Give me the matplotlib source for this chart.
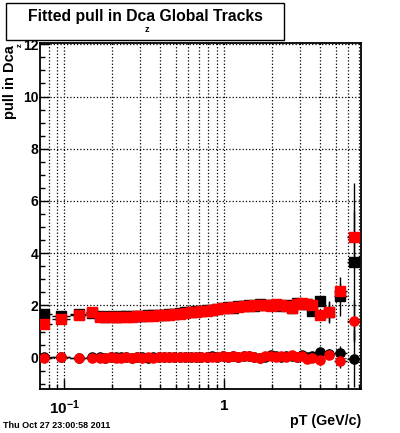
import numpy as np
import matplotlib
matplotlib.use("Agg")
import matplotlib.pyplot as plt
from matplotlib.ticker import FixedLocator, FixedFormatter, LogLocator, NullFormatter, MultipleLocator
from matplotlib.patches import Rectangle

plt.rcParams['font.family'] = ['Liberation Sans', 'DejaVu Sans']
plt.rcParams['font.weight'] = 'bold'
plt.rcParams['mathtext.fontset'] = 'custom'
plt.rcParams['mathtext.rm'] = 'Liberation Sans:bold'
plt.rcParams['mathtext.bf'] = 'Liberation Sans:bold'

# pT bin centres (GeV/c)
pt = [0.0742, 0.0957, 0.124, 0.150,
      0.167, 0.18, 0.195, 0.21, 0.227, 0.245, 0.265, 0.286, 0.309, 0.334,
      0.36, 0.39, 0.42, 0.455, 0.49, 0.53, 0.57, 0.62, 0.67, 0.72,
      0.78, 0.84, 0.91, 0.98, 1.06, 1.14, 1.23, 1.33, 1.44, 1.55,
      1.68, 1.81, 1.96, 2.11, 2.28, 2.46, 2.66, 2.87, 3.1, 3.33,
      3.56, 3.97, 4.52, 5.30, 6.48]

# fitted sigma of the pull (squares)
sigma_red = [1.29, 1.49, 1.65, 1.74,
             1.54, 1.55, 1.55, 1.56, 1.56, 1.57, 1.57, 1.58, 1.59, 1.60,
             1.61, 1.62, 1.63, 1.65, 1.67, 1.69, 1.71, 1.73, 1.76, 1.78,
             1.80, 1.83, 1.86, 1.89, 1.91, 1.93, 1.95, 1.97, 1.99, 2.00,
             2.03, 2.01, 1.98, 2.05, 2.00, 1.96, 1.92, 2.06, 2.08, 2.06,
             2.02, 1.62, 1.75, 2.57, 4.62]
sigma_black = [1.69, 1.60, 1.68, 1.72,
               1.58, 1.57, 1.58, 1.57, 1.58, 1.59, 1.58, 1.60, 1.60, 1.62,
               1.62, 1.64, 1.64, 1.67, 1.68, 1.70, 1.73, 1.74, 1.77, 1.80,
               1.81, 1.84, 1.88, 1.90, 1.94, 1.92, 1.97, 1.96, 2.01, 1.99,
               2.05, 2.00, 2.02, 2.03, 1.98, 2.00, 1.90, 2.08, 2.05, 2.04,
               1.80, 2.18, 1.75, 2.35, 3.67]
sigma_red_err = [0.03] * 44 + [0.08, 0.12, 0.42, 0.30, 1.0]
sigma_black_err = [0.03] * 44 + [0.10, 0.15, 0.40, 0.74, 3.0]

# fitted mean of the pull (circles)
mean_red = [0.00, 0.02, 0.00, 0.00,
            0.00, 0.00, 0.01, 0.00, 0.00, 0.01, 0.00, 0.01, 0.00, 0.01,
            0.00, 0.01, 0.02, 0.01, 0.02, 0.01, 0.02, 0.03, 0.02, 0.03,
            0.02, 0.04, 0.03, 0.05, 0.04, 0.06, 0.03, 0.07, 0.05, 0.02,
            -0.03, 0.05, 0.08, 0.03, 0.06, 0.02, 0.09, 0.03, 0.06, -0.05,
            -0.03, -0.10, 0.09, -0.12, 1.40]
mean_black = [0.01, 0.03, 0.00, 0.01,
              0.01, 0.00, 0.02, 0.01, 0.01, 0.02, 0.00, 0.02, 0.01, 0.00,
              0.01, 0.02, 0.01, 0.03, 0.01, 0.02, 0.03, 0.02, 0.04, 0.02,
              0.03, 0.05, 0.02, 0.06, 0.03, 0.07, 0.02, 0.05, 0.06, 0.04,
              0.00, 0.03, 0.10, 0.05, 0.02, 0.07, 0.05, 0.04, 0.10, 0.02,
              0.05, 0.20, 0.15, 0.16, -0.04]
mean_red_err = [0.02] * 44 + [0.05, 0.10, 0.12, 0.28, 0.8]
mean_black_err = [0.02] * 44 + [0.06, 0.12, 0.20, 0.28, 1.1]

x_ticks = [0.1, 1]
x_ticklabels = [r'$\mathbf{10^{-1}}$', '1']
y_ticks = [0, 2, 4, 6, 8, 10, 12]

pt_arr = np.array(pt)
# half bin widths: edges at geometric midpoints between neighbouring bins
mid = np.sqrt(pt_arr[1:] * pt_arr[:-1])
edges = np.concatenate([[pt_arr[0] ** 2 / mid[0]], mid, [pt_arr[-1] ** 2 / mid[-1]]])
xerr = np.vstack([pt_arr - edges[:-1], edges[1:] - pt_arr])

fig = plt.figure(figsize=(4.0, 4.33), dpi=100)
W, H = 400.0, 433.0
ax = fig.add_axes([40 / W, 1 - 389 / H, (361 - 40) / W, (389 - 43) / H])

ebkw = dict(ls='none', ecolor='black', elinewidth=1.0, capsize=0)
ax.errorbar(pt, sigma_black, yerr=sigma_black_err, xerr=xerr, marker='s', ms=7.2,
            mfc='black', mec='black', zorder=3, **ebkw)
ax.errorbar(pt, mean_black, yerr=mean_black_err, xerr=xerr, marker='o', ms=6.6,
            mfc='black', mec='black', zorder=3, **ebkw)
ax.errorbar(pt, sigma_red, yerr=sigma_red_err, xerr=xerr, marker='s', ms=7.2,
            mfc='#ff0000', mec='#ff0000', zorder=4, **ebkw)
ax.errorbar(pt, mean_red, yerr=mean_red_err, xerr=xerr, marker='o', ms=6.6,
            mfc='#ff0000', mec='#ff0000', zorder=4, **ebkw)

ax.set_xscale('log')
ax.set_xlim(0.0705, 7.22)
ax.set_ylim(-1.2, 12.05)

ax.xaxis.set_major_locator(FixedLocator(x_ticks))
ax.xaxis.set_major_formatter(FixedFormatter(x_ticklabels))
ax.xaxis.set_minor_locator(LogLocator(base=10, subs=np.arange(2, 10)))
ax.xaxis.set_minor_formatter(NullFormatter())
ax.yaxis.set_major_locator(FixedLocator(y_ticks))
ax.yaxis.set_minor_locator(MultipleLocator(0.5))

ax.tick_params(which='both', direction='in', top=False, right=False, colors='black')
ax.tick_params(axis='y', which='major', length=6.5, width=1, labelsize=10, pad=1)
ax.tick_params(axis='y', which='minor', length=3.3, width=1)
ax.tick_params(axis='x', which='major', length=7, width=1, labelsize=11, pad=7)
ax.tick_params(axis='x', which='minor', length=3.6, width=1)
for lab in ax.get_xticklabels() + ax.get_yticklabels():
    lab.set_fontweight('bold')

ax.grid(True, which='both', axis='x', ls=':', color='black', lw=0.9)
ax.grid(True, which='major', axis='y', ls=':', color='black', lw=0.9)
ax.set_axisbelow(True)
for s in ax.spines.values():
    s.set_linewidth(1.3)

# title box
fig.patches.append(Rectangle((6 / W, 1 - 40 / H), (284 - 6) / W, (40 - 3) / H,
                             transform=fig.transFigure, fill=True, fc='white',
                             ec='black', lw=1.0))
fig.text(145 / W, 1 - 17 / H, 'Fitted pull in Dca Global Tracks', ha='center', va='center',
         fontsize=11.3, fontweight='bold')
fig.text(147 / W, 1 - 29 / H, 'z', ha='center', va='center', fontsize=6.5, fontweight='bold')

# axis titles
fig.text(10 / W, 1 - 45 / H, 'pull in Dca', rotation=90, ha='center', va='top',
         fontsize=10.5, fontweight='bold')
fig.text(20.3 / W, 1 - 45 / H, 'z', rotation=90, ha='center', va='center',
         fontsize=5.5, fontweight='bold')
fig.text(361 / W, 1 - 421 / H, 'pT (GeV/c)', ha='right', va='center',
         fontsize=10.3, fontweight='bold')

fig.text(3 / W, 1 - 425 / H, 'Thu Oct 27 23:00:58 2011', ha='left', va='center',
         fontsize=6.5, fontweight='bold')

fig.savefig('out.png', dpi=100)
